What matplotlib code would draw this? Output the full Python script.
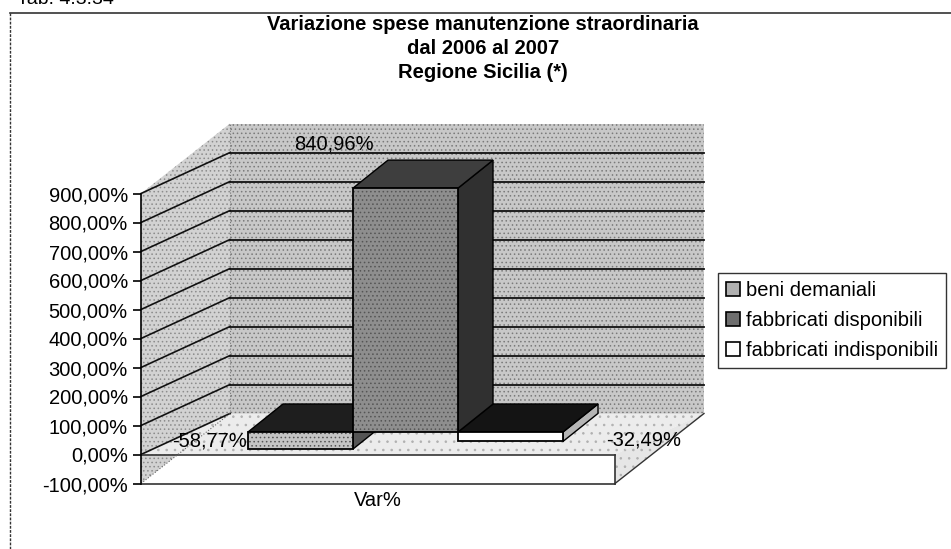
import matplotlib
matplotlib.use('Agg')
import matplotlib.pyplot as plt
from matplotlib.lines import Line2D
from matplotlib.patches import Patch

# data
categories = ['Var%']
series = ['beni demaniali', 'fabbricati disponibili', 'fabbricati indisponibili']
values = [-58.77, 840.96, -32.49]
y_ticks = [-100, 0, 100, 200, 300, 400, 500, 600, 700, 800, 900]

plt.rcParams['font.family'] = ['Liberation Sans', 'DejaVu Sans']
plt.rcParams['hatch.linewidth'] = 0.6

W, H = 951, 549
X0, XS = 141, 474.0      # front-left corner px, px per x unit
Y0, YS = 454.5, 0.29     # px of 0 %, px per 1 %


def ux(px):
    return px / XS


def uy(px):
    return px / YS


def pct(v):
    return f"{v:.2f}".replace('.', ',') + '%'


fig = plt.figure(figsize=(W / 100, H / 100), dpi=100)
ax = fig.add_axes([0, 0, 1, 1])
ax.set_xlim(-X0 / XS, (W - X0) / XS)
ax.set_ylim(-(H - Y0) / YS, Y0 / YS)

vmin, vmax = y_ticks[0], y_ticks[-1]
BX, BY = ux(89), uy(70)    # box depth
GX, GY = ux(89), uy(41)    # gridline depth

line_c = '#111111'

# walls and floor (stippled like the scan)
ax.fill([0, BX, BX, 0], [vmax, vmax + BY, vmin + BY, vmin], facecolor='#d2d2d2',
        edgecolor='#8c8c8c', hatch='....', lw=0, zorder=1)
ax.fill([BX, 1 + BX, 1 + BX, BX], [vmax + BY, vmax + BY, vmin + BY, vmin + BY],
        facecolor='#c8c8c8', edgecolor='#7a7a7a', hatch='....', lw=0, zorder=1)
ax.fill([0, 1, 1 + GX, GX], [0, 0, GY, GY], facecolor='#ececec',
        edgecolor='#b0b0b0', hatch='..', lw=0, zorder=1.5)
ax.fill([1, 1, 1 + BX], [0, vmin, vmin + BY], facecolor='#e6e6e6',
        edgecolor='#b0b0b0', hatch='..', lw=0, zorder=1.5)
ax.plot([BX, BX], [vmin + BY, vmax + BY], color='#777777', lw=0.8, ls=':', zorder=2)

for v in y_ticks[1:]:
    ax.plot([0, GX], [v, v + GY], color=line_c, lw=1.2, zorder=2)
    if v > 0:
        ax.plot([GX, 1 + GX], [v + GY, v + GY], color=line_c, lw=1.3, zorder=2)

ax.plot([0, 1], [0, 0], color='#333333', lw=1.2, zorder=2)
ax.plot([0, 1], [vmin, vmin], color='#333333', lw=1.2, zorder=2)
ax.plot([1, 1], [vmin, 0], color='#333333', lw=1.2, zorder=2)
ax.plot([1, 1 + BX], [vmin, vmin + BY], color='#333333', lw=1.0, zorder=2)
ax.plot([0, BX], [vmin, vmin + BY], color='#666666', lw=0.8, ls=':', zorder=2)

# 3d bars
bar_x0, bar_w = ux(107), ux(105)
base = uy(22.5)
ddx, ddy = ux(35), uy(28)
front_c = ['#c4c4c4', '#8e8e8e', '#ffffff']
front_h = ['....', '....', None]
top_c = ['#1e1e1e', '#3e3e3e', '#141414']
side_c = ['#555555', '#303030', '#b5b5b5']
order = [0, 2, 1]

for k, i in enumerate(order):
    v = values[i]
    x0 = bar_x0 + i * bar_w
    x1 = x0 + bar_w
    z = 3 + k
    top = base + max(v, 0)
    ax.fill([x1, x1, x1 + ddx, x1 + ddx], [base, base + v, base + v + ddy, base + ddy],
            facecolor=side_c[i], edgecolor='black', lw=1, zorder=z)
    ax.fill([x0, x1, x1 + ddx, x0 + ddx], [top, top, top + ddy, top + ddy],
            facecolor=top_c[i], edgecolor='black', lw=1, zorder=z)
    ax.fill([x0, x1, x1, x0], [base, base, base + v, base + v],
            facecolor=front_c[i], edgecolor='#555555', hatch=front_h[i], lw=0, zorder=z)
    ax.fill([x0, x1, x1, x0], [base, base, base + v, base + v],
            facecolor='none', edgecolor='black', lw=1.3, zorder=z)

# value labels
fs = 14.5
x_b = [bar_x0 + i * bar_w for i in range(len(values))]
ax.text(x_b[1] - ux(19), base + values[1] + uy(44), pct(values[1]),
        ha='center', va='center', fontsize=fs, zorder=10)
ax.text(x_b[0] - ux(1), base + values[0] / 2, pct(values[0]),
        ha='right', va='center', fontsize=fs, zorder=10)
ax.text(x_b[2] + bar_w + ux(43), base + values[2] / 2 - uy(3), pct(values[2]),
        ha='left', va='center', fontsize=fs, zorder=10)

ax.text(0.5, vmin - uy(17), categories[0], ha='center', va='center', fontsize=fs)

# value axis
for s in ['top', 'right', 'bottom']:
    ax.spines[s].set_visible(False)
ax.spines['left'].set_position(('data', 0))
ax.spines['left'].set_bounds(vmin, vmax)
ax.spines['left'].set_linewidth(1.2)
ax.spines['left'].set_zorder(6)
ax.set_xticks([])
ax.set_yticks(y_ticks)
ax.set_yticklabels([pct(t) for t in y_ticks])
ax.tick_params(axis='y', direction='out', length=6, width=1.2, pad=3.5, labelsize=fs)
ax.patch.set_visible(False)

# titles and frame
title = ['Variazione spese manutenzione straordinaria', 'dal 2006 al 2007', 'Regione Sicilia (*)']
for j, t in enumerate(title):
    fig.text(483 / W, 1 - (25 + 23.5 * j) / H, t, ha='center', va='center',
             fontsize=14.5, fontweight='bold')
fig.text(17 / W, 1 - 4 / H, 'Tab. 4.3.34', va='baseline', fontsize=14)
fig.add_artist(Line2D([10 / W, 1], [1 - 13 / H, 1 - 13 / H], color='#333333', lw=1.2))
fig.add_artist(Line2D([10 / W, 10 / W], [0, 1 - 13 / H], color='#333333', lw=1.0, ls=(0, (2, 1))))

# legend
leg_c = ['#b0b0b0', '#6e6e6e', '#ffffff']
handles = [Patch(facecolor=c, edgecolor='black', lw=1.2) for c in leg_c]
fig.legend(handles, series, loc='upper left', bbox_to_anchor=(718 / W, 1 - 273 / H),
           frameon=True, fancybox=False, edgecolor='black', fontsize=fs,
           handlelength=0.7, handleheight=0.7, handletextpad=0.3,
           labelspacing=0.55, borderpad=0.4, borderaxespad=0)

fig.savefig('out.png', dpi=100)
